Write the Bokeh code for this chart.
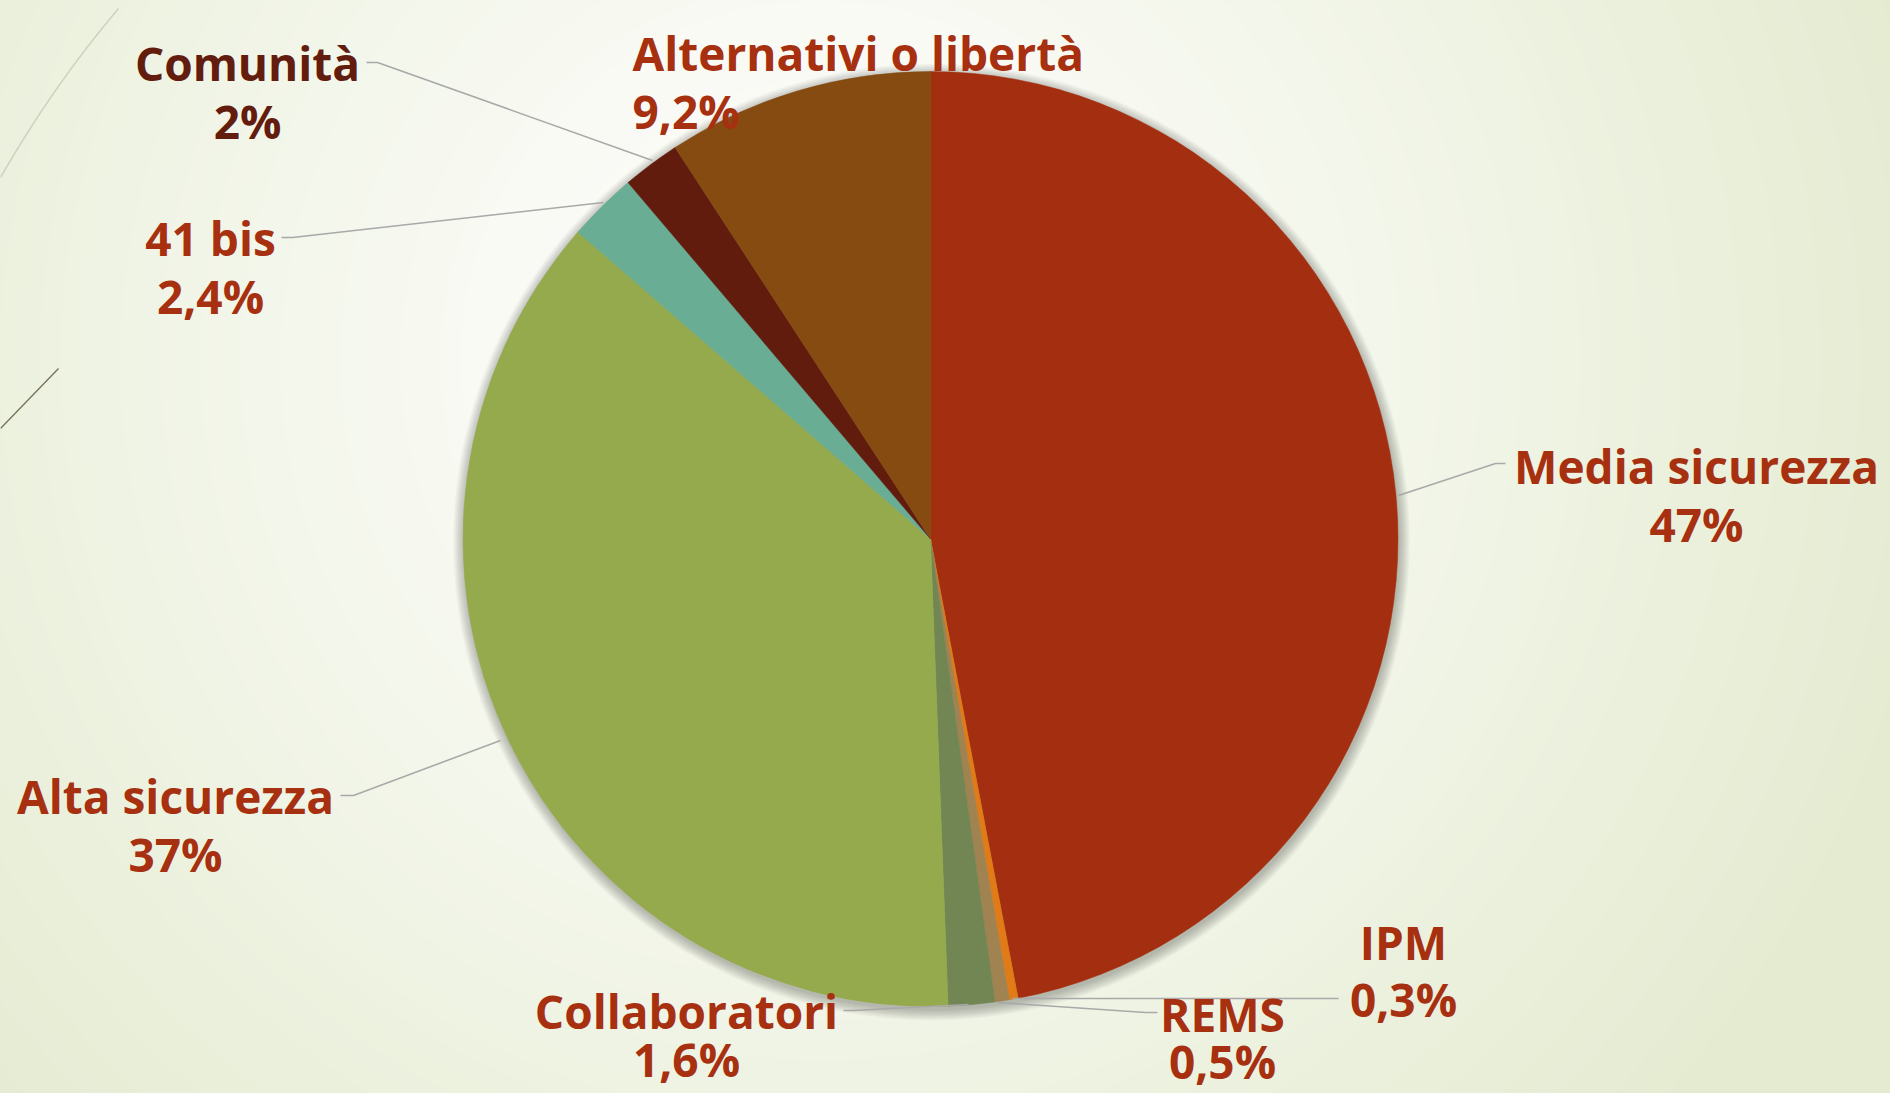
import numpy as np
from bokeh.plotting import figure
from bokeh.models import Range1d, ColumnDataSource
from bokeh.embed import file_html
from bokeh.resources import INLINE
from bokeh.core.properties import value

# ---------------- data ----------------
categories = ["Media sicurezza", "IPM", "REMS", "Collaboratori",
              "Alta sicurezza", "41 bis", "Comunità", "Alternativi o libertà"]
values = [47.0, 0.3, 0.5, 1.6, 37.0, 2.4, 2.0, 9.2]
pct_labels = ["47%", "0,3%", "0,5%", "1,6%", "37%", "2,4%", "2%", "9,2%"]
slice_colors = ["#A32E10", "#E07B17", "#A08350", "#718652",
                "#94AA4C", "#69AD94", "#621C0E", "#854B10"]
label_colors = ["#A6300F", "#A6300F", "#A6300F", "#A6300F",
                "#A6300F", "#A6300F", "#621D0E", "#A6300F"]

# ---------------- layout helpers (reference pixel -> data) ----------------
W, H = 1890, 1093
def X(xr):
    return xr
def Y(yr):
    return H - yr

p = figure(width=W, height=H, output_backend="svg", toolbar_location=None,
           x_range=Range1d(0, W), y_range=Range1d(0, H),
           x_axis_location=None, y_axis_location=None, min_border=0)
p.grid.visible = False
p.outline_line_color = None
p.border_fill_color = "#E4EBD0"
p.background_fill_color = "#E4EBD0"

# background radial gradient (approximated by concentric circles)
c0 = np.array([0xFA, 0xFB, 0xF6], float)
c1 = np.array([0xE4, 0xEB, 0xD0], float)
gcx, gcy = X(820), Y(360)
radii = np.arange(1600, 0, -20)
bg_cols = []
for r in radii:
    t = np.clip((r - 260) / 900.0, 0, 1) ** 1.1
    c = c0 + (c1 - c0) * t
    bg_cols.append("#%02x%02x%02x" % tuple(int(round(v)) for v in c))
p.circle(x=[gcx] * len(radii), y=[gcy] * len(radii), radius=radii,
         fill_color=bg_cols, line_color=None)

# decorative lines at top-left
p.quadratic(x0=X(0), y0=Y(177), x1=X(118), y1=Y(8), cx=X(52), cy=Y(86),
            line_color="#CDD2BE", line_width=1.5)
p.line([X(0), X(58)], [Y(428), Y(368)], line_color="#77705A", line_width=1.3)

# pie geometry
cx, cy, R = X(930), Y(538.5), 467.5

# soft shadow
for k in range(1, 12):
    p.circle(x=[cx + 1], y=[cy - 3], radius=R + k, fill_color="black",
             fill_alpha=0.022, line_color=None)

vals = np.array(values)
frac = vals / vals.sum()
cum_end = np.cumsum(frac)
cum_start = cum_end - frac
start_angle = np.pi / 2 - 2 * np.pi * cum_end
end_angle = np.pi / 2 - 2 * np.pi * cum_start
src = ColumnDataSource(dict(start=start_angle, end=end_angle, color=slice_colors,
                            cat=categories, val=values))
p.wedge(x=cx, y=cy, radius=R, start_angle="start", end_angle="end",
        fill_color="color", line_color="color", line_width=0.5, source=src)

# leader lines (reference pixel coordinates)
leaders = [
    [(1398, 495), (1495, 463), (1505, 463)],           # Media sicurezza
    [(1012, 998), (1338, 998)],                          # IPM
    [(997, 1002), (1145, 1012), (1157, 1012)],           # REMS
    [(968, 1004), (853, 1010), (843, 1010)],             # Collaboratori
    [(500, 740), (353, 795), (340, 795)],                # Alta sicurezza
    [(603, 202), (292, 237), (281, 237)],                # 41 bis
    [(652, 160), (377, 62), (366, 62)],                  # Comunità
]
for pts in leaders:
    p.line([X(a) for a, b in pts], [Y(b) for a, b in pts],
           line_color="#A9A9A9", line_width=1.6)

# label positions: (x, baseline line1, baseline line2, align)
label_pos = [
    (1696, 465, 523, "center"),
    (1403, 941, 998, "center"),
    (1222, 1013, 1060, "center"),
    (686, 1010, 1058, "center"),
    (175, 795, 853, "center"),
    (210, 237, 295, "center"),
    (247, 62, 120, "center"),
    (632, 52, 110, "left"),
]
for i, (lx, b1, b2, al) in enumerate(label_pos):
    p.text(x=[X(lx), X(lx)], y=[Y(b1), Y(b2)], text=[categories[i], pct_labels[i]],
           text_font=value("Open Sans"), text_font_style="bold",
           text_font_size="46px", text_color=label_colors[i],
           text_align=al, text_baseline="alphabetic")

open("out.html", "w").write(file_html(p, INLINE))
